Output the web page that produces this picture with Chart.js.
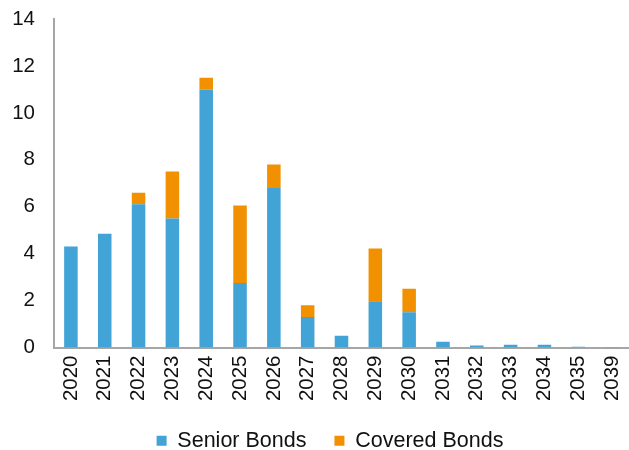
<!DOCTYPE html>
<html>
<head>
<meta charset="utf-8">
<script src="https://cdn.jsdelivr.net/npm/chart.js@4/dist/chart.umd.min.js"></script>
<style>
  html, body { margin: 0; padding: 0; background: #fff; overflow: hidden; }
  #wrap { width: 629px; height: 450px; }
</style>
</head>
<body>
<div id="wrap"><canvas id="c" width="629" height="450"></canvas></div>
<script>
// Maturity years
const years = ['2020','2021','2022','2023','2024','2025','2026','2027','2028','2029','2030','2031','2032','2033','2034','2035','2039'];
// Redemptions per year, by instrument
const seniorBonds  = [4.3, 4.85, 6.1, 5.5, 11.0, 2.75, 6.8, 1.3, 0.5, 1.97, 1.5, 0.24, 0.08, 0.12, 0.12, 0.03, 0.02];
const coveredBonds = [0, 0, 0.5, 2.0, 0.5, 3.3, 1.0, 0.5, 0, 2.25, 1.0, 0, 0, 0, 0, 0, 0];
// Value axis ticks
const yTicks = [0, 2, 4, 6, 8, 10, 12, 14];

const FONT = "'Liberation Sans', Arial, sans-serif";

// Nudge the legend row a little to the right of the canvas centre
const legendShift = {
  id: 'legendShift',
  afterLayout(chart) {
    const lg = chart.legend;
    if (lg) { lg.left += 8; lg.right += 8; }
  }
};

new Chart(document.getElementById('c'), {
  type: 'bar',
  data: {
    labels: years,
    datasets: [
      { label: 'Senior Bonds', data: seniorBonds, backgroundColor: '#41A3D6', borderWidth: 0 },
      { label: 'Covered Bonds', data: coveredBonds, backgroundColor: '#F29100', borderWidth: 0 }
    ]
  },
  plugins: [legendShift],
  options: {
    responsive: false,
    animation: false,
    devicePixelRatio: 1,
    layout: { autoPadding: false, padding: { left: 12, right: -3, top: 19, bottom: -11.5 } },
    datasets: { bar: { categoryPercentage: 1.0, barPercentage: 0.4 } },
    plugins: {
      legend: {
        position: 'bottom',
        labels: {
          font: { family: FONT, size: 21.5 },
          color: '#111',
          boxWidth: 10,
          boxHeight: 10,
          padding: 28
        }
      },
      tooltip: { enabled: false }
    },
    scales: {
      x: {
        stacked: true,
        offset: true,
        afterFit: (scale) => {
          scale.height = 54.5;
          scale.paddingLeft = 0;
          scale.paddingRight = 0;
        },
        grid: { display: false, drawTicks: false },
        border: { display: true, color: '#A6A6A6', width: 2 },
        ticks: {
          font: { family: FONT, size: 20.5 },
          color: '#111',
          minRotation: 90,
          maxRotation: 90,
          padding: 8,
          autoSkip: false
        }
      },
      y: {
        stacked: true,
        min: 0,
        max: 14,
        afterBuildTicks: (axis) => { axis.ticks = yTicks.map(v => ({ value: v })); },
        afterFit: (scale) => {
          scale.width = 42;
          scale.paddingTop = 0;
          scale.paddingBottom = 0;
        },
        grid: { display: false, drawTicks: false },
        border: { display: true, color: '#A6A6A6', width: 2 },
        ticks: {
          font: { family: FONT, size: 20.5 },
          color: '#111',
          padding: 19
        }
      }
    }
  }
});
</script>
</body>
</html>
